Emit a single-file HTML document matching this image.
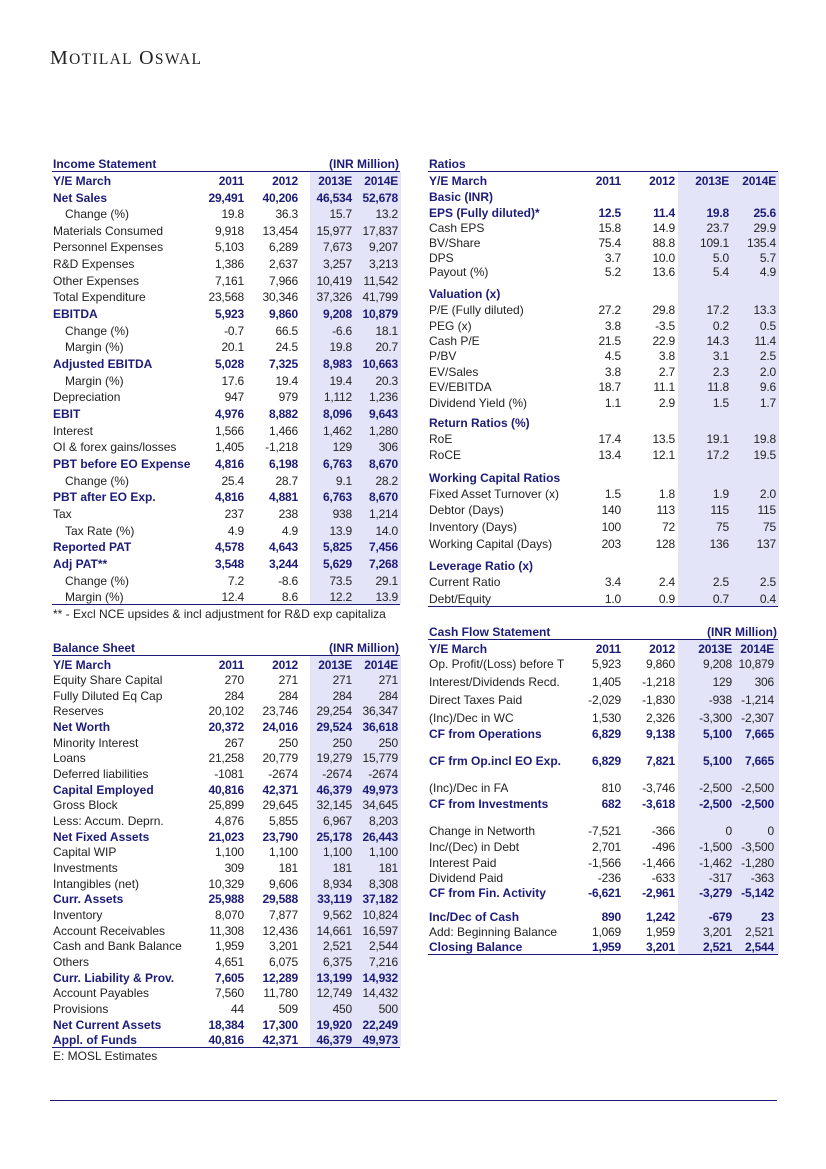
<!DOCTYPE html>
<html><head><meta charset="utf-8">
<style>
body{margin:0;background:#fff;}
#page{position:relative;width:826px;height:1169px;overflow:hidden;font-family:"Liberation Sans",sans-serif;font-size:12px;color:#222;}
.t{position:absolute;white-space:nowrap;line-height:14px;}
.b{font-weight:bold;color:#1c1c78;}
.num{letter-spacing:-0.2px;}
.shade{position:absolute;background:#e4e4f8;}
.hl{position:absolute;height:1px;background:#1c1c78;}
</style></head><body>
<div id="page">
<div class="t" style="left:50px;top:47px;font-family:'Liberation Serif',serif;font-size:20px;letter-spacing:1.3px;color:#222;line-height:22px;">M<span style="font-size:15.5px">OTILAL</span> O<span style="font-size:15.5px">SWAL</span></div>
<div class="hl" style="left:50px;top:1100px;width:727px;"></div>
</div>
<script>
const years=["2011","2012","2013E","2014E"];
// rows: [label, y, style, v2011, v2012, v2013E, v2014E]; style: b=bold, n=normal, i=indented, h=section heading
const incomeRows=[
["Net Sales",197,"b","29,491","40,206","46,534","52,678"],
["Change (%)",213,"i","19.8","36.3","15.7","13.2"],
["Materials Consumed",230,"n","9,918","13,454","15,977","17,837"],
["Personnel Expenses",246,"n","5,103","6,289","7,673","9,207"],
["R&D Expenses",263,"n","1,386","2,637","3,257","3,213"],
["Other Expenses",280,"n","7,161","7,966","10,419","11,542"],
["Total Expenditure",296,"n","23,568","30,346","37,326","41,799"],
["EBITDA",313,"b","5,923","9,860","9,208","10,879"],
["Change (%)",330,"i","-0.7","66.5","-6.6","18.1"],
["Margin (%)",346,"i","20.1","24.5","19.8","20.7"],
["Adjusted EBITDA",363,"b","5,028","7,325","8,983","10,663"],
["Margin (%)",380,"i","17.6","19.4","19.4","20.3"],
["Depreciation",396,"n","947","979","1,112","1,236"],
["EBIT",413,"b","4,976","8,882","8,096","9,643"],
["Interest",430,"n","1,566","1,466","1,462","1,280"],
["OI & forex gains/losses",446,"n","1,405","-1,218","129","306"],
["PBT before EO Expense",463,"b","4,816","6,198","6,763","8,670"],
["Change (%)",480,"i","25.4","28.7","9.1","28.2"],
["PBT after EO Exp.",496,"b","4,816","4,881","6,763","8,670"],
["Tax",513,"n","237","238","938","1,214"],
["Tax Rate (%)",530,"i","4.9","4.9","13.9","14.0"],
["Reported PAT",546,"b","4,578","4,643","5,825","7,456"],
["Adj PAT**",563,"b","3,548","3,244","5,629","7,268"],
["Change (%)",580,"i","7.2","-8.6","73.5","29.1"],
["Margin (%)",596,"i","12.4","8.6","12.2","13.9"]];
const ratioRows=[
["Basic (INR)",196,"h"],
["EPS (Fully diluted)*",212,"b","12.5","11.4","19.8","25.6"],
["Cash EPS",227,"n","15.8","14.9","23.7","29.9"],
["BV/Share",242,"n","75.4","88.8","109.1","135.4"],
["DPS",257,"n","3.7","10.0","5.0","5.7"],
["Payout (%)",271,"n","5.2","13.6","5.4","4.9"],
["Valuation (x)",293,"h"],
["P/E (Fully diluted)",309,"n","27.2","29.8","17.2","13.3"],
["PEG (x)",325,"n","3.8","-3.5","0.2","0.5"],
["Cash P/E",340,"n","21.5","22.9","14.3","11.4"],
["P/BV",355,"n","4.5","3.8","3.1","2.5"],
["EV/Sales",371,"n","3.8","2.7","2.3","2.0"],
["EV/EBITDA",386,"n","18.7","11.1","11.8","9.6"],
["Dividend Yield (%)",402,"n","1.1","2.9","1.5","1.7"],
["Return Ratios (%)",422,"h"],
["RoE",438,"n","17.4","13.5","19.1","19.8"],
["RoCE",454,"n","13.4","12.1","17.2","19.5"],
["Working Capital Ratios",477,"h"],
["Fixed Asset Turnover (x)",493,"n","1.5","1.8","1.9","2.0"],
["Debtor (Days)",509,"n","140","113","115","115"],
["Inventory (Days)",526,"n","100","72","75","75"],
["Working Capital (Days)",543,"n","203","128","136","137"],
["Leverage Ratio (x)",565,"h"],
["Current Ratio",581,"n","3.4","2.4","2.5","2.5"],
["Debt/Equity",598,"n","1.0","0.9","0.7","0.4"]];
const balanceRows=[
["Equity Share Capital",679,"n","270","271","271","271"],
["Fully Diluted Eq Cap",695,"n","284","284","284","284"],
["Reserves",710,"n","20,102","23,746","29,254","36,347"],
["Net Worth",726,"b","20,372","24,016","29,524","36,618"],
["Minority Interest",742,"n","267","250","250","250"],
["Loans",757,"n","21,258","20,779","19,279","15,779"],
["Deferred liabilities",773,"n","-1081","-2674","-2674","-2674"],
["Capital Employed",789,"b","40,816","42,371","46,379","49,973"],
["Gross Block",804,"n","25,899","29,645","32,145","34,645"],
["Less: Accum. Deprn.",820,"n","4,876","5,855","6,967","8,203"],
["Net Fixed Assets",836,"b","21,023","23,790","25,178","26,443"],
["Capital WIP",851,"n","1,100","1,100","1,100","1,100"],
["Investments",867,"n","309","181","181","181"],
["Intangibles (net)",883,"n","10,329","9,606","8,934","8,308"],
["Curr. Assets",898,"b","25,988","29,588","33,119","37,182"],
["Inventory",914,"n","8,070","7,877","9,562","10,824"],
["Account Receivables",930,"n","11,308","12,436","14,661","16,597"],
["Cash and Bank Balance",945,"n","1,959","3,201","2,521","2,544"],
["Others",961,"n","4,651","6,075","6,375","7,216"],
["Curr. Liability & Prov.",977,"b","7,605","12,289","13,199","14,932"],
["Account Payables",992,"n","7,560","11,780","12,749","14,432"],
["Provisions",1008,"n","44","509","450","500"],
["Net Current Assets",1024,"b","18,384","17,300","19,920","22,249"],
["Appl. of Funds",1039,"b","40,816","42,371","46,379","49,973"]];
const cashRows=[
["Op. Profit/(Loss) before T",663,"n","5,923","9,860","9,208","10,879"],
["Interest/Dividends Recd.",681,"n","1,405","-1,218","129","306"],
["Direct Taxes Paid",699,"n","-2,029","-1,830","-938","-1,214"],
["(Inc)/Dec in WC",717,"n","1,530","2,326","-3,300","-2,307"],
["CF from Operations",733,"b","6,829","9,138","5,100","7,665"],
["CF frm Op.incl EO Exp.",760,"b","6,829","7,821","5,100","7,665"],
["(Inc)/Dec in FA",787,"n","810","-3,746","-2,500","-2,500"],
["CF from Investments",803,"b","682","-3,618","-2,500","-2,500"],
["Change in Networth",830,"n","-7,521","-366","0","0"],
["Inc/(Dec) in Debt",846,"n","2,701","-496","-1,500","-3,500"],
["Interest Paid",862,"n","-1,566","-1,466","-1,462","-1,280"],
["Dividend Paid",877,"n","-236","-633","-317","-363"],
["CF from Fin. Activity",892,"b","-6,621","-2,961","-3,279","-5,142"],
["Inc/Dec of Cash",916,"b","890","1,242","-679","23"],
["Add: Beginning Balance",931,"n","1,069","1,959","3,201","2,521"],
["Closing Balance",946,"b","1,959","3,201","2,521","2,544"]];

const page=document.getElementById('page');
function txt(x,y,s,cls,name,w,align){
  const d=document.createElement('div');
  d.className='t '+(cls||'');
  d.textContent=s;
  d.style.top=(y-6)+'px';
  if(align==='r'){d.style.left=(x-w)+'px';d.style.width=w+'px';d.style.textAlign='right';}
  else d.style.left=x+'px';
  
  
  page.appendChild(d);return d;
}
function box(cls,x,y,w,h,name){
  const d=document.createElement('div');d.className=cls;
  d.style.left=x+'px';d.style.top=y+'px';d.style.width=w+'px';if(h)d.style.height=h+'px';
  
  
  page.appendChild(d);
}
function table(key,title,unit,x0,x1,cols,shadeX,titleY,rows,bottomY,labelW){
  const hy=titleY+17;
  box('shade',shadeX,hy-8,x1-shadeX+1,bottomY-(hy-8),key+'-estimate-shading');
  txt(x0+1,titleY,title,'b',key+'-title');
  if(unit) txt(x1-1,titleY,unit,'b',key+'-unit',120,'r');
  box('hl',x0,hy-9,x1-x0,1,key+'-header-top-rule');
  txt(x0+1,hy,'Y/E March','b',key+'-year-label');
  years.forEach((yr,i)=>txt(cols[i],hy,yr,'b num',key+'-year-'+yr,60,'r'));
  rows.forEach(r=>{
    const st=r[2];
    const cls=(st==='b'||st==='h')?'b':'';
    const lab=txt(x0+1+(st==='i'?12:0),r[1],r[0],cls,key+'-row-label');
    if(labelW){lab.style.maxWidth=labelW+'px';lab.style.overflow='hidden';}
    for(let i=0;i<4;i++){ if(r[3+i]!==undefined) txt(cols[i],r[1],r[3+i],cls+' num',key+'-value-'+years[i],60,'r'); }
  });
  box('hl',x0,bottomY,x1-x0,1,key+'-bottom-rule');
}
table('income-statement','Income Statement','(INR Million)',52,400,[244,298,352,398],310,163,incomeRows,604,0);
table('ratios','Ratios','',428,778,[621,675,729,776],678,163,ratioRows,606,0);
table('balance-sheet','Balance Sheet','(INR Million)',52,400,[244,298,352,398],310,647,balanceRows,1047,0);
table('cash-flow','Cash Flow Statement','(INR Million)',428,778,[621,675,732,774],678,631,cashRows,954,150);
const fn=txt(53,613,'** - Excl NCE upsides & incl adjustment for R&D exp capitaliza','', 'income-footnote');
fn.style.width='347px';fn.style.overflow='hidden';
txt(53,1055,'E: MOSL Estimates','','estimates-note');
</script>
</body></html>
